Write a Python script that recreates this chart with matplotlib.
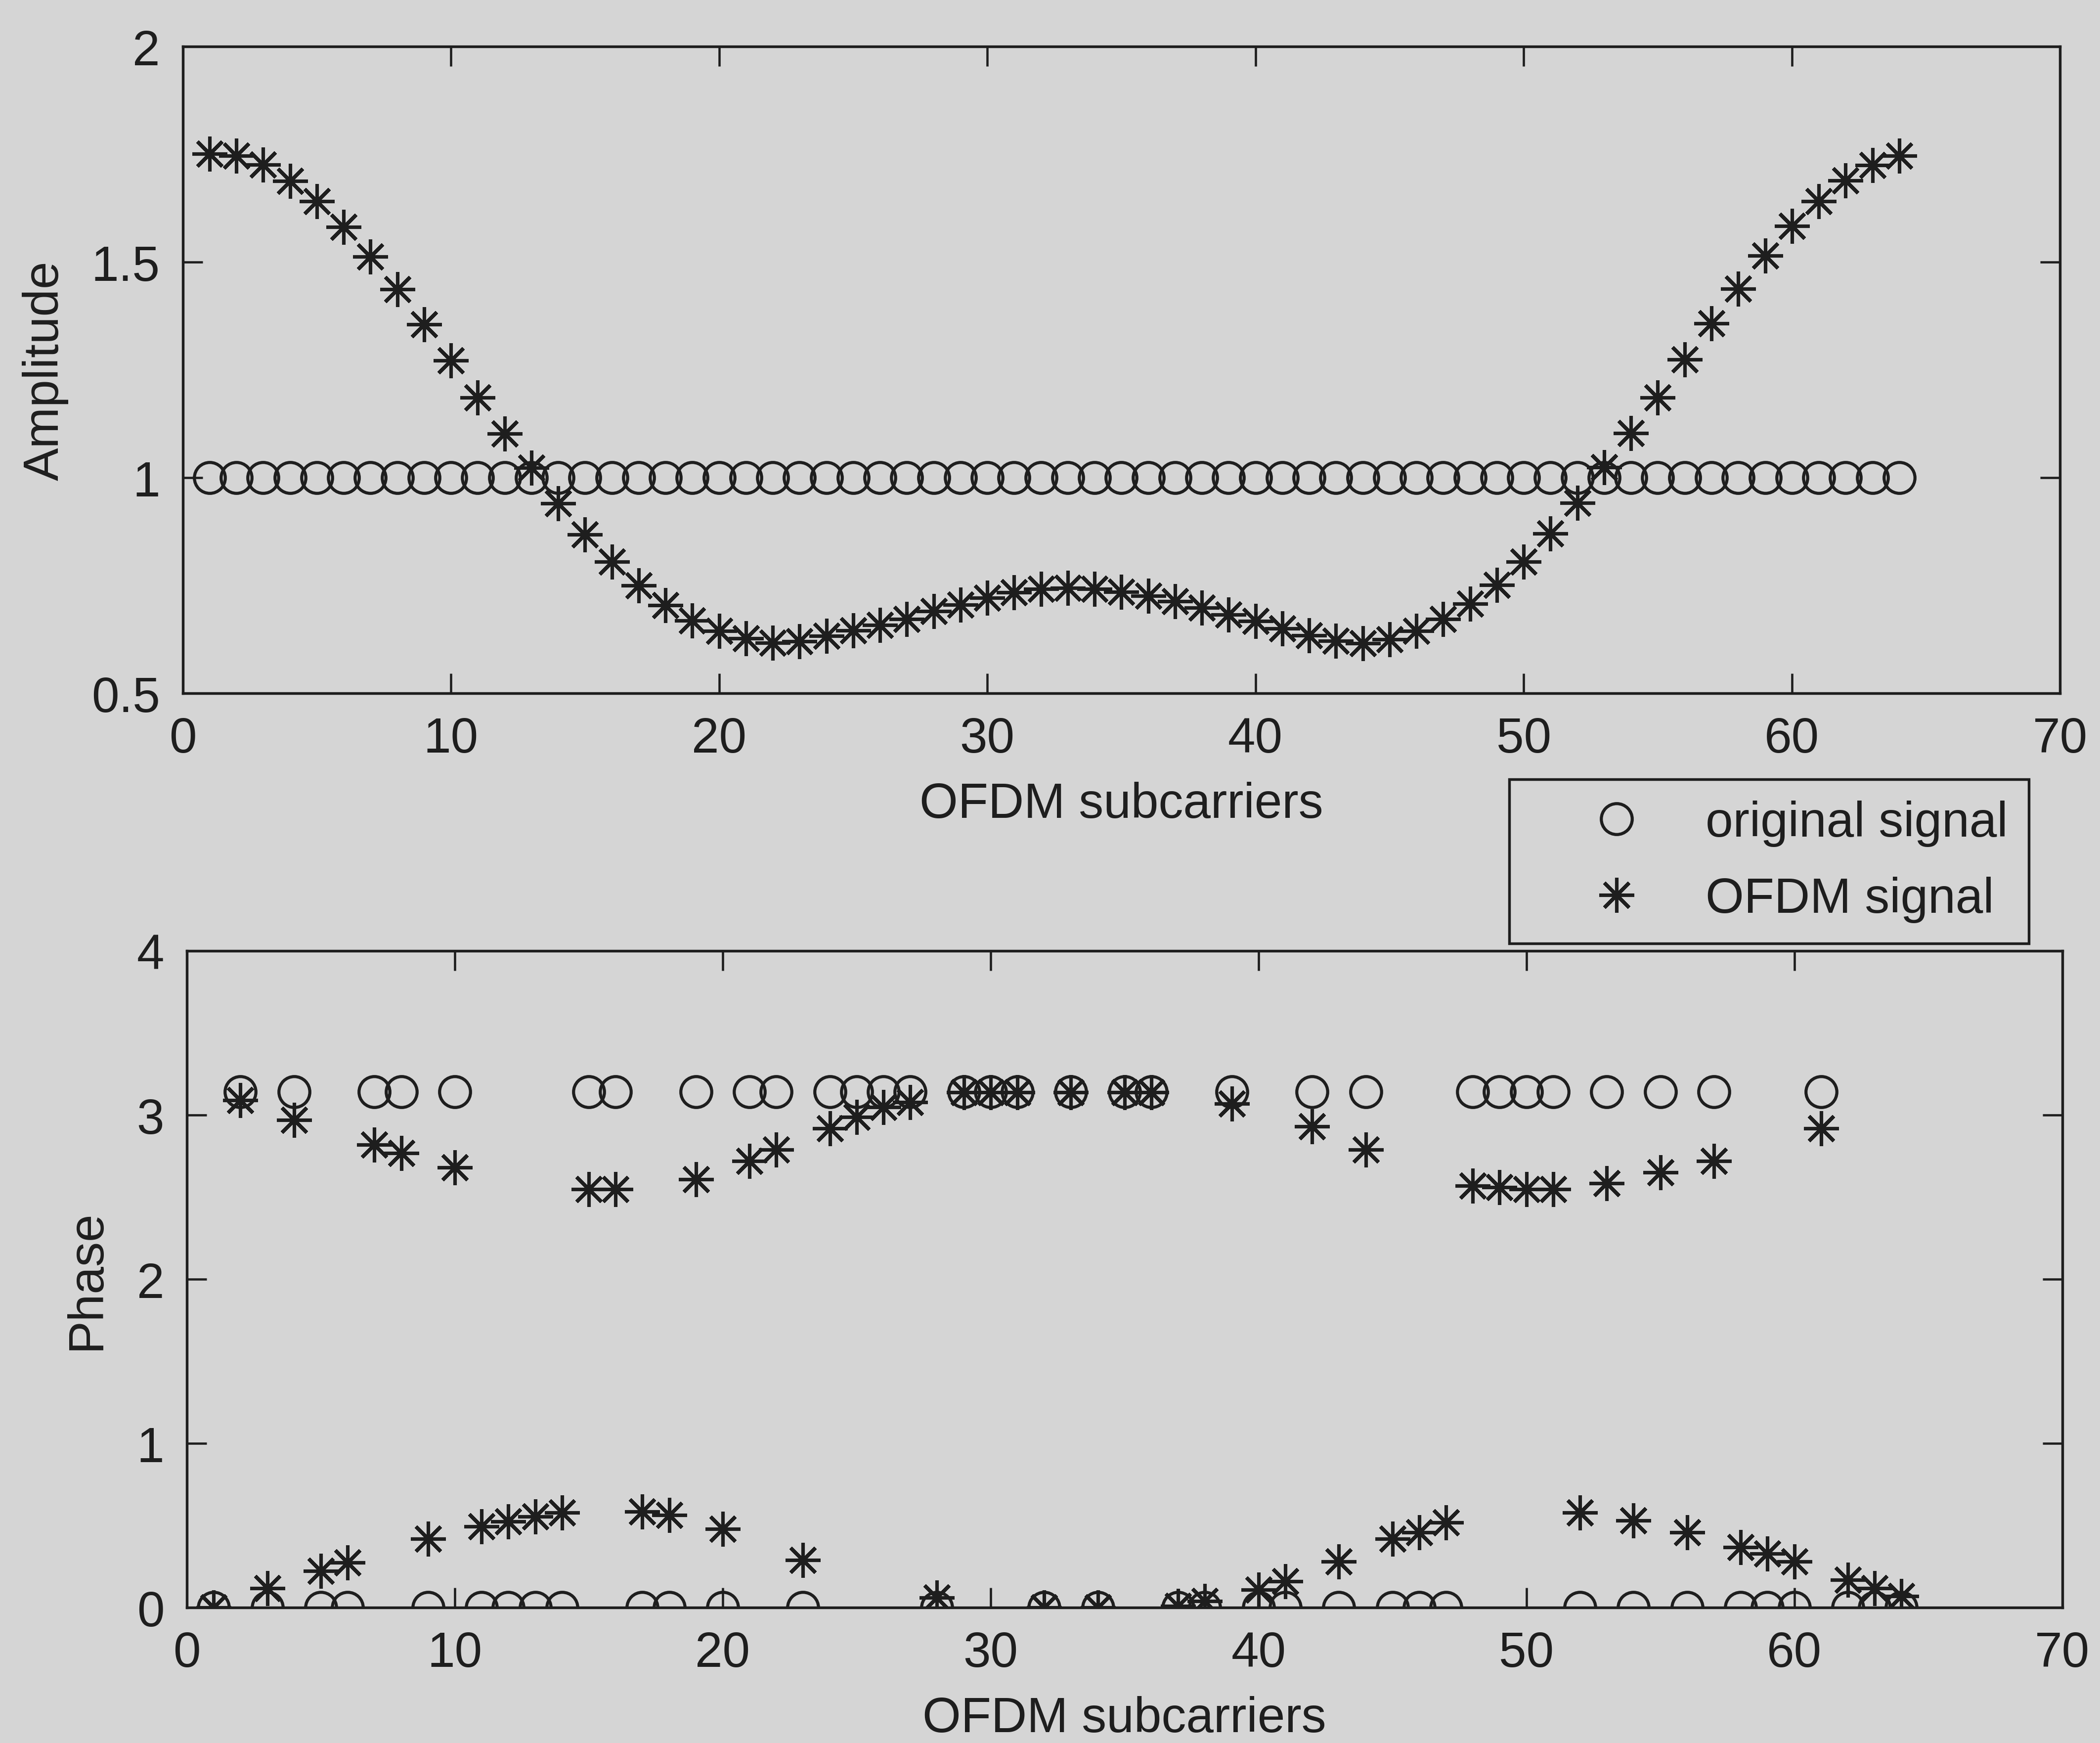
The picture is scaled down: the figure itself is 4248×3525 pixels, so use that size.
import matplotlib
matplotlib.use("Agg")
import matplotlib.pyplot as plt
from matplotlib.lines import Line2D

# amplitude / phase of 64 OFDM subcarriers
subcarrier = list(range(1, 65))

orig_amp = [1.0] * 64
ofdm_amp = [1.751, 1.747, 1.726, 1.689, 1.641, 1.582, 1.513, 1.437, 1.356, 1.272,
            1.186, 1.102, 1.023, 0.941, 0.869, 0.805, 0.751, 0.705, 0.669, 0.645,
            0.628, 0.618, 0.621, 0.633, 0.646, 0.659, 0.673, 0.691, 0.706, 0.722,
            0.734, 0.742, 0.745, 0.742, 0.735, 0.726, 0.714, 0.699, 0.683, 0.668,
            0.651, 0.635, 0.622, 0.616, 0.625, 0.645, 0.673, 0.708, 0.752, 0.805,
            0.871, 0.942, 1.024, 1.104, 1.186, 1.274, 1.358, 1.439, 1.515, 1.584,
            1.641, 1.690, 1.725, 1.747]

PI = 3.1416
orig_phase = [0, PI, 0, PI, 0, 0, PI, PI, 0, PI,
              0, 0, 0, 0, PI, PI, 0, 0, PI, 0,
              PI, PI, 0, PI, PI, PI, PI, 0, PI, PI,
              PI, 0, PI, 0, PI, PI, 0, 0, PI, 0,
              0, PI, 0, PI, 0, 0, 0, PI, PI, PI,
              PI, 0, PI, 0, PI, 0, PI, 0, 0, 0,
              PI, 0, 0, 0]
ofdm_phase = [0.0, 3.09, 0.12, 2.97, 0.225, 0.275, 2.82, 2.77, 0.42, 2.68,
              0.495, 0.525, 0.555, 0.58, 2.55, 2.55, 0.585, 0.565, 2.61, 0.48,
              2.72, 2.79, 0.29, 2.92, 2.99, 3.05, 3.08, 0.06, 3.14, 3.14,
              3.14, 0.0, 3.14, 0.0, 3.14, 3.14, 0.01, 0.04, 3.07, 0.11,
              0.16, 2.93, 0.28, 2.79, 0.42, 0.46, 0.52, 2.57, 2.56, 2.55,
              2.55, 0.58, 2.585, 0.53, 2.65, 0.46, 2.72, 0.37, 0.33, 0.28,
              2.92, 0.17, 0.12, 0.07]

bg = "#d5d5d5"
ink = "#1e1e1e"
star = (8, 2, 0)

plt.rcParams["font.family"] = ["Liberation Sans", "DejaVu Sans"]
plt.rcParams["font.size"] = 24

fig = plt.figure(figsize=(14.16, 11.753), dpi=300, facecolor=bg)
ax1 = fig.add_axes([0.087, 0.602, 0.894, 0.371])
ax2 = fig.add_axes([0.089, 0.0776, 0.893, 0.3767])

circ_kw = dict(linestyle="none", marker="o", ms=15, mfc="none", mec=ink, mew=1.5)
star_kw = dict(linestyle="none", marker=star, ms=17, mfc=ink, mec=ink, mew=1.7)

ax1.plot(subcarrier, orig_amp, **circ_kw)
ax1.plot(subcarrier, ofdm_amp, **star_kw)
ax2.plot(subcarrier, orig_phase, **circ_kw)
ax2.plot(subcarrier, ofdm_phase, **star_kw)

for ax in (ax1, ax2):
    ax.set_facecolor(bg)
    ax.set_xlim(0, 70)
    ax.set_xticks(range(0, 71, 10))
    ax.tick_params(direction="in", top=True, right=True, length=9.5, width=1.1,
                   pad=11, colors=ink, labelsize=24)
    for s in ax.spines.values():
        s.set_linewidth(1.3)
        s.set_color(ink)
    ax.set_xlabel("OFDM subcarriers", color=ink, labelpad=9)

ax1.set_ylim(0.5, 2)
ax1.set_yticks([0.5, 1, 1.5, 2])
ax1.set_yticklabels(["0.5", "1", "1.5", "2"])
ax1.set_ylabel("Amplitude", color=ink, labelpad=11)

ax2.set_ylim(0, 4)
ax2.set_yticks([0, 1, 2, 3, 4])
ax2.set_ylabel("Phase", color=ink, labelpad=13)

handles = [Line2D([], [], **circ_kw), Line2D([], [], **star_kw)]
leg = fig.legend(handles, ["original signal", "OFDM signal"], loc="upper left",
                 bbox_to_anchor=(0.7187, 0.5527), borderaxespad=0, fancybox=False,
                 framealpha=1, facecolor=bg, edgecolor=ink, borderpad=0.42,
                 handlelength=3.5, handletextpad=0.05, labelspacing=0.6,
                 fontsize=24, labelcolor=ink)
leg.get_frame().set_linewidth(1.3)

fig.savefig("out.png", dpi=300, facecolor=bg)
